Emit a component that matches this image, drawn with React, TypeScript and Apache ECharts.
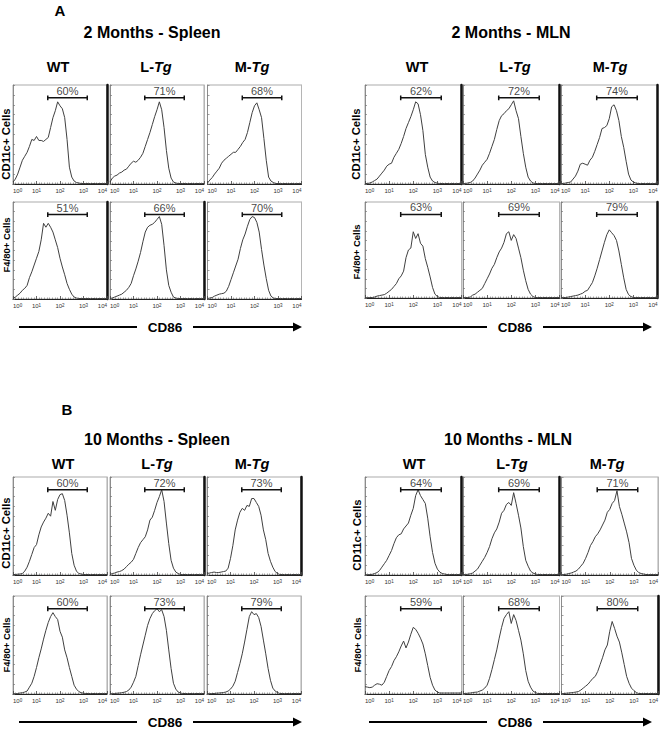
import React, { useEffect, useRef } from "react";
import * as echarts from "echarts";

// ---------------- DATA ----------------
// log10(CD86) bin positions (axis runs from 10^0 to 10^4)
const BINS = [0, 0.1, 0.2, 0.3, 0.4, 0.5, 0.6, 0.7, 0.8, 0.9, 1.0, 1.1, 1.2, 1.3, 1.4, 1.5, 1.6, 1.7, 1.8, 1.9, 2.0, 2.1, 2.2, 2.3, 2.4, 2.5, 2.6, 2.7, 2.8, 2.9, 3.0, 3.1, 3.2, 3.3, 3.4, 3.5, 3.6, 3.7, 3.8, 3.9, 4.0];
const X_TICKS = [0, 1, 2, 3, 4];
const GENOTYPES = ["WT", "L-Tg", "M-Tg"];
const CELL_TYPES = ["CD11c+ Cells", "F4/80+ Cells"];
const GROUP_TITLES = ["2 Months - Spleen", "2 Months - MLN", "10 Months - Spleen", "10 Months - MLN"];
const PANEL_LETTERS = ["A", "B"];
const AXIS_NAME = "CD86";
const BRACKET = [1.48, 3.16];
const BRACKET_Y = 87;

// % of cells (counts normalised to % of panel height)
const A_SPL_WT_CD11C = [2, 5, 10, 17, 24, 28, 32, 38, 45, 44, 48, 44, 44, 43, 45, 47, 57, 67, 74, 83, 79, 76, 67, 45, 17, 7, 3, 1.5, 1, 0.5, 0.5, 0.5, 0.5, 0.5, 0.5, 0.5, 0.5, 0.5, 0.5, 0.5, 0.5];
const A_SPL_LTG_CD11C = [2, 6, 8, 9, 11, 12, 14, 15, 18, 21, 23, 22, 24, 27, 31, 38, 45, 52, 60, 68, 75, 83, 75, 57, 34, 16, 6, 2, 1, 0.5, 0.5, 0.5, 0.5, 0.5, 0.5, 0.5, 0.5, 0.5, 0.5, 0.5, 0.5];
const A_SPL_MTG_CD11C = [1, 4, 6.5, 10, 13, 16, 21, 24, 26, 28, 30, 32, 32, 35, 38, 42, 45, 52, 62, 72, 79, 82, 75, 67, 46, 24, 7, 3, 1.5, 0.5, 0.5, 0.5, 0.5, 0.5, 0.5, 0.5, 0.5, 0.5, 0.5, 0.5, 0.5];
const A_SPL_WT_F480 = [0.5, 2, 4, 6, 9, 11, 14, 22, 28, 35, 42, 49, 61, 78, 74, 78, 74, 69, 61, 53, 42, 33, 25, 16, 10, 5, 2, 1, 0.5, 0.5, 0.5, 0.5, 0.5, 0.5, 0.5, 0.5, 0.5, 0.5, 0.5, 0.5, 0.5];
const A_SPL_LTG_F480 = [0.5, 1, 2, 3, 4, 5, 7, 9, 12, 16, 24, 31, 39, 48, 59, 69, 74, 76, 77, 79, 82, 85, 77, 55, 30, 14, 7, 2, 1, 0.5, 0.5, 0.5, 0.5, 0.5, 0.5, 0.5, 0.5, 0.5, 0.5, 0.5, 0.5];
const A_SPL_MTG_F480 = [0.5, 1, 1.5, 3, 4, 5, 5.5, 6, 8, 13, 20, 27, 34, 41, 52, 61, 67, 75, 82, 85, 84, 79, 69, 51, 35, 21, 9, 3, 1, 0.5, 0.5, 0.5, 0.5, 0.5, 0.5, 0.5, 0.5, 0.5, 0.5, 0.5, 0.5];

const A_MLN_WT_CD11C = [0.5, 0.5, 1, 2, 3.5, 5, 8, 11, 14, 18, 20, 21, 27, 31, 35, 41, 48, 56, 62, 68, 75, 83, 81, 70, 54, 30, 17, 7, 3, 1.5, 0.8, 0.5, 0.5, 0.5, 0.5, 0.5, 0.5, 0.5, 0.5, 0.5, 0.5];
const A_MLN_LTG_CD11C = [0.3, 0.5, 1, 1.5, 3, 6, 10, 14, 19, 22, 25, 31, 38, 45, 55, 64, 69, 71, 74, 76, 80, 84, 74, 66, 48, 31, 17, 7, 3, 1, 0.5, 0.5, 0.5, 0.5, 0.5, 0.5, 0.5, 0.5, 0.5, 0.5, 0.5];
const A_MLN_MTG_CD11C = [0.5, 0.5, 1, 1.5, 2, 5, 8, 13, 20, 21, 20, 19, 24, 27, 33, 40, 47, 56, 57, 59, 66, 78, 80, 74, 64, 48, 37, 23, 10, 4, 2, 1, 0.5, 0.5, 0.5, 0.5, 0.5, 0.5, 0.5, 0.5, 0.5];
const A_MLN_WT_F480 = [0.3, 0.3, 0.5, 0.5, 1, 2, 2.5, 3, 3.5, 5, 7, 9, 12, 15, 20, 23, 28, 42, 50, 52, 69, 62, 67, 57, 54, 41, 32, 22, 11, 4, 1.5, 0.5, 0.5, 0.5, 0.5, 0.5, 0.5, 0.5, 0.5, 0.5, 0.5];
const A_MLN_LTG_F480 = [0.3, 0.5, 0.5, 1, 3, 4, 6, 8, 10, 15, 20, 25, 31, 35, 42, 48, 52, 58, 67, 69, 60, 66, 62, 52, 42, 29, 18, 9, 4, 1.5, 0.5, 0.5, 0.5, 0.5, 0.5, 0.5, 0.5, 0.5, 0.5, 0.5, 0.5];
const A_MLN_MTG_F480 = [0.3, 0.5, 0.5, 1, 1.5, 2, 2.5, 3, 4, 5, 7, 8, 12, 16, 23, 31, 40, 49, 58, 66, 71, 68, 65, 60, 49, 35, 21, 9, 3.5, 1.5, 0.5, 0.5, 0.5, 0.5, 0.5, 0.5, 0.5, 0.5, 0.5, 0.5, 0.5];

const B_SPL_WT_CD11C = [0.5, 0.5, 0.8, 1, 1.5, 4, 8, 14, 21, 28, 31, 41, 49, 54, 58, 63, 60, 75, 66, 77, 82, 83, 76, 61, 43, 22, 10, 4, 1.5, 1, 0.5, 0.5, 0.5, 0.5, 0.5, 0.5, 0.5, 0.5, 0.5, 0.5, 0.5];
const B_SPL_LTG_CD11C = [0.5, 1.5, 2, 3, 3.5, 4.5, 6, 8.5, 11, 13, 16, 22, 28, 33, 36, 39, 46, 56, 59, 66, 74, 80, 87, 75, 53, 32, 15, 7, 3, 1.5, 0.5, 0.5, 0.5, 0.5, 0.5, 0.5, 0.5, 0.5, 0.5, 0.5, 0.5];
const B_SPL_MTG_CD11C = [1.5, 2, 2.5, 3, 2.5, 2.5, 3, 3.5, 4, 7, 17, 30, 46, 56, 64, 68, 66, 71, 70, 78, 78, 74, 70, 61, 46, 36, 22, 14, 8, 3.5, 1.5, 0.5, 0.5, 0.5, 0.5, 0.5, 0.5, 0.5, 0.5, 0.5, 0.5];
const B_SPL_WT_F480 = [0.3, 0.3, 0.5, 1, 1.3, 2, 3, 7, 11, 18, 27, 37, 46, 56, 65, 73, 79, 83, 79, 76, 64, 58, 45, 37, 27, 18, 9, 5, 2.5, 1.3, 0.8, 0.5, 0.5, 0.5, 0.5, 0.5, 0.5, 0.5, 0.5, 0.5, 0.5];
const B_SPL_LTG_F480 = [0.3, 0.3, 0.5, 0.8, 1, 1.3, 1.8, 2.5, 4, 7, 12, 18, 29, 40, 50, 60, 70, 77, 82, 85, 87, 84, 86, 79, 65, 45, 26, 11, 5, 2, 1, 0.5, 0.5, 0.5, 0.5, 0.5, 0.5, 0.5, 0.5, 0.5, 0.5];
const B_SPL_MTG_F480 = [0.3, 0.3, 0.5, 0.5, 0.8, 1, 1.2, 1.5, 2, 3, 5, 8, 13, 22, 31, 41, 53, 66, 79, 84, 81, 82, 78, 69, 55, 41, 26, 14, 6, 3, 1.5, 0.5, 0.5, 0.5, 0.5, 0.5, 0.5, 0.5, 0.5, 0.5, 0.5];

const B_MLN_WT_CD11C = [0.3, 0.3, 0.5, 0.7, 1.5, 2.5, 4.5, 8, 11.5, 15, 20, 25, 32, 38, 41, 42, 47, 50, 53, 61, 68, 81, 87, 81, 77, 73, 58, 39, 23, 12, 6, 3, 1.5, 1, 0.5, 0.5, 0.5, 0.5, 0.5, 0.5, 0.5];
const B_MLN_LTG_CD11C = [0.3, 0.5, 0.7, 1.2, 2, 4, 6, 10, 14, 18, 23, 29, 37, 43, 47, 54, 63, 66, 72, 74, 71, 84, 73, 61, 48, 29, 15, 9, 4, 2, 1, 0.5, 0.5, 0.5, 0.5, 0.5, 0.5, 0.5, 0.5, 0.5, 0.5];
const B_MLN_MTG_CD11C = [0.3, 0.5, 0.8, 1.5, 2, 3, 4, 6, 9, 12, 17, 23, 30, 34, 39, 42, 46, 51, 56, 64, 67, 73, 76, 86, 70, 62, 53, 44, 33, 17, 10, 5, 2.5, 1.5, 1, 0.5, 0.5, 0.5, 0.5, 0.5, 0.5];
const B_MLN_WT_F480 = [7.5, 7, 6.5, 7, 9, 10.5, 10, 9, 12, 18, 24, 28, 34, 38, 43, 49, 54, 47, 53, 61, 68, 66, 62, 57, 51, 41, 29, 17, 9, 4, 2, 1, 1, 1, 1, 1, 1, 1, 1, 1, 1];
const B_MLN_LTG_F480 = [0.3, 0.5, 0.8, 1, 1.5, 1.8, 2, 3, 4, 6, 9, 16, 25, 35, 45, 57, 68, 77, 81, 84, 72, 81, 75, 65, 55, 41, 24, 13, 7, 3, 1.5, 0.5, 0.5, 0.5, 0.5, 0.5, 0.5, 0.5, 0.5, 0.5, 0.5];
const B_MLN_MTG_F480 = [0.3, 0.5, 0.8, 1, 1.3, 1.6, 2, 2.5, 4, 6, 8, 10, 13, 16, 18, 23, 30, 37, 45, 50, 64, 74, 67, 59, 53, 42, 30, 18, 11, 6, 3.5, 1.5, 0.5, 0.5, 0.5, 0.5, 0.5, 0.5, 0.5, 0.5, 0.5];

// percentage of CD86-high cells, per group: [CD11c row, F4/80 row]
const PCT_A_SPL = [[60, 71, 68], [51, 66, 70]];
const PCT_A_MLN = [[62, 72, 74], [63, 69, 79]];
const PCT_B_SPL = [[60, 72, 73], [60, 73, 79]];
const PCT_B_MLN = [[64, 69, 71], [59, 68, 80]];

const CURVES = [
  [[A_SPL_WT_CD11C, A_SPL_LTG_CD11C, A_SPL_MTG_CD11C], [A_SPL_WT_F480, A_SPL_LTG_F480, A_SPL_MTG_F480]],
  [[A_MLN_WT_CD11C, A_MLN_LTG_CD11C, A_MLN_MTG_CD11C], [A_MLN_WT_F480, A_MLN_LTG_F480, A_MLN_MTG_F480]],
  [[B_SPL_WT_CD11C, B_SPL_LTG_CD11C, B_SPL_MTG_CD11C], [B_SPL_WT_F480, B_SPL_LTG_F480, B_SPL_MTG_F480]],
  [[B_MLN_WT_CD11C, B_MLN_LTG_CD11C, B_MLN_MTG_CD11C], [B_MLN_WT_F480, B_MLN_LTG_F480, B_MLN_MTG_F480]],
];
const PCTS = [PCT_A_SPL, PCT_A_MLN, PCT_B_SPL, PCT_B_MLN];

// ---------------- LAYOUT / STYLE ----------------
const FONT = '"Liberation Sans", Arial, Helvetica, sans-serif';
const GROUP_LAYOUT = [
  { lefts: [13, 110, 207.5], width: 94, rows: [[85, 99], [202, 97]], titleX: 152, titleY: 32, headX: [58, 156, 252], headY: 67, rowLabelX: 6, rowLabelY: [144, 245], arrow: { y: 327, l1: 19, l2: 137, tx: 165, r1: 193, r2: 302 } },
  { lefts: [365, 463, 561], width: 96.5, rows: [[85, 99], [202, 96]], titleX: 511, titleY: 32, headX: [417, 515, 610], headY: 67, rowLabelX: 356, rowLabelY: [144, 252], arrow: { y: 327, l1: 369, l2: 487, tx: 515, r1: 543, r2: 652 } },
  { lefts: [13, 110, 207], width: 94, rows: [[477, 98], [596, 98]], titleX: 157, titleY: 439, headX: [63, 157, 252], headY: 464, rowLabelX: 6, rowLabelY: [533, 645], arrow: { y: 722, l1: 19, l2: 137, tx: 165, r1: 193, r2: 302 } },
  { lefts: [365, 463, 561.5], width: 96.5, rows: [[477, 98], [596, 98]], titleX: 508, titleY: 439, headX: [414, 512, 607], headY: 464, rowLabelX: 357, rowLabelY: [535, 645], arrow: { y: 722, l1: 369, l2: 487, tx: 515, r1: 543, r2: 652 } },
];
const LETTER_POS = [[60, 10], [67, 409]];
// scan artefact: heavy dark right frame edge
const DARK_RIGHT = [
  [[1, 0, 0], [1, 1, 0]],
  [[1, 1, 1], [0, 0, 1]],
  [[0, 1, 1], [0, 0, 0]],
  [[1, 1, 0], [0, 0, 1]],
];

function txt(text: string, x: number, y: number, size: number, extra: any = {}) {
  return {
    type: "text",
    x,
    y,
    rotation: extra.rotation || 0,
    silent: true,
    style: {
      text,
      fontSize: size,
      fontWeight: extra.weight || "bold",
      fontFamily: FONT,
      fill: "#000",
      align: "center",
      verticalAlign: "middle",
      textAlign: "center",
      textVerticalAlign: "middle",
      rich: extra.rich,
    },
  };
}

function genotypeText(label: string, x: number, y: number) {
  const parts = label.split("-");
  if (parts.length < 2) return txt(label, x, y, 14.5);
  const base = { fontSize: 14.5, fontWeight: "bold", fontFamily: FONT, fill: "#000", color: "#000" };
  return txt("{n|" + parts[0] + "-}{i|" + parts[1] + "}", x, y, 14.5, {
    rich: { n: { ...base }, i: { ...base, fontStyle: "italic" } },
  });
}

function buildOption() {
  const grids: any[] = [];
  const xAxes: any[] = [];
  const yAxes: any[] = [];
  const series: any[] = [];
  const graphics: any[] = [];

  GROUP_LAYOUT.forEach((gl, g) => {
    for (let r = 0; r < 2; r++) {
      for (let c = 0; c < 3; c++) {
        const k = grids.length;
        const [top, height] = gl.rows[r];
        const dark = DARK_RIGHT[g][r][c] === 1;
        grids.push({
          left: gl.lefts[c],
          top,
          width: gl.width,
          height,
          show: true,
          borderColor: "#ababab",
          borderWidth: 1,
          containLabel: false,
          outerBoundsMode: "none",
        });
        xAxes.push({
          type: "value",
          gridIndex: k,
          min: X_TICKS[0],
          max: X_TICKS[X_TICKS.length - 1],
          interval: 1,
          axisLine: { show: true, onZero: false, lineStyle: { color: "#222", width: 1 } },
          axisTick: { show: true, inside: true, length: 3, lineStyle: { color: "#444", width: 0.8 } },
          minorTick: { show: true, splitNumber: 9, length: 1.5, lineStyle: { color: "#666", width: 0.6 } },
          splitLine: { show: false },
          axisLabel: {
            show: true,
            margin: 4,
            fontSize: 6,
            color: "#333",
            fontFamily: FONT,
            alignMinLabel: "left",
            alignMaxLabel: "right",
            formatter: (v: number) => "10{s|" + v + "}",
            rich: { s: { fontSize: 4.5, color: "#333", verticalAlign: "top", fontFamily: FONT } },
          },
        });
        yAxes.push({
          type: "value",
          gridIndex: k,
          min: 0,
          max: 100,
          interval: 10,
          position: "left",
          axisLine: { show: true, lineStyle: { color: "#8c8c8c", width: 1 } },
          axisTick: { show: true, inside: true, length: 2, lineStyle: { color: "#777", width: 0.7 } },
          axisLabel: { show: false },
          splitLine: { show: false },
        });
        yAxes.push({
          type: "value",
          gridIndex: k,
          min: 0,
          max: 100,
          position: "right",
          axisLine: { show: true, lineStyle: dark ? { color: "#111", width: 2.5 } : { color: "#b5b5b5", width: 1 } },
          axisTick: { show: false },
          axisLabel: { show: false },
          splitLine: { show: false },
        });

        const curve = CURVES[g][r][c];
        series.push({
          type: "line",
          xAxisIndex: k,
          yAxisIndex: 2 * k,
          data: BINS.map((b, i) => [b, curve[i]]),
          symbol: "none",
          showSymbol: false,
          silent: true,
          lineStyle: { color: "#404040", width: 1 },
          z: 3,
        });
        const [lo, hi] = BRACKET;
        series.push({
          type: "line",
          xAxisIndex: k,
          yAxisIndex: 2 * k,
          data: [
            [lo, BRACKET_Y - 2.5],
            [lo, BRACKET_Y + 2.5],
            [lo, BRACKET_Y],
            [hi, BRACKET_Y],
            [hi, BRACKET_Y + 2.5],
            [hi, BRACKET_Y - 2.5],
          ],
          symbol: "none",
          silent: true,
          lineStyle: { color: "#111", width: 1.5 },
          z: 4,
        });
        series.push({
          type: "scatter",
          xAxisIndex: k,
          yAxisIndex: 2 * k,
          data: [[(lo + hi) / 2, BRACKET_Y]],
          symbolSize: 1,
          silent: true,
          itemStyle: { color: "rgba(0,0,0,0)" },
          label: {
            show: true,
            position: "top",
            distance: 1,
            formatter: PCTS[g][r][c] + "%",
            fontSize: 11,
            color: "#111",
            textBorderWidth: 0,
            fontFamily: FONT,
          },
          z: 5,
        });
      }
    }

    // texts
    graphics.push(txt(GROUP_TITLES[g], gl.titleX, gl.titleY, 16));
    GENOTYPES.forEach((gt, c) => graphics.push(genotypeText(gt, gl.headX[c], gl.headY)));
    graphics.push(txt(CELL_TYPES[0], gl.rowLabelX, gl.rowLabelY[0], 11.3, { rotation: Math.PI / 2 }));
    graphics.push(txt(CELL_TYPES[1], gl.rowLabelX, gl.rowLabelY[1], 9.5, { rotation: Math.PI / 2 }));
    const a = gl.arrow;
    graphics.push({ type: "line", silent: true, shape: { x1: a.l1, y1: a.y, x2: a.l2, y2: a.y }, style: { stroke: "#000", lineWidth: 2.2 } });
    graphics.push({ type: "line", silent: true, shape: { x1: a.r1, y1: a.y, x2: a.r2 - 8, y2: a.y }, style: { stroke: "#000", lineWidth: 2.2 } });
    graphics.push({
      type: "polygon",
      silent: true,
      shape: { points: [[a.r2 - 9, a.y - 4.5], [a.r2, a.y], [a.r2 - 9, a.y + 4.5]] },
      style: { fill: "#000" },
    });
    graphics.push(txt(AXIS_NAME, a.tx, a.y, 13.5));
  });

  PANEL_LETTERS.forEach((L, i) => graphics.push(txt(L, LETTER_POS[i][0], LETTER_POS[i][1], 15)));

  return {
    animation: false,
    backgroundColor: "#ffffff",
    grid: grids,
    xAxis: xAxes,
    yAxis: yAxes,
    series,
    graphic: { elements: graphics },
  };
}

export default function App() {
  const ref = useRef<HTMLDivElement>(null);
  useEffect(() => {
    document.body.style.margin = "0";
    if (!ref.current) return;
    const chart = echarts.init(ref.current, undefined, { renderer: "svg" });
    chart.setOption(buildOption() as any);
    return () => chart.dispose();
  }, []);
  return <div ref={ref} style={{ position: "absolute", left: 0, top: 0, width: 662, height: 730 }} />;
}
